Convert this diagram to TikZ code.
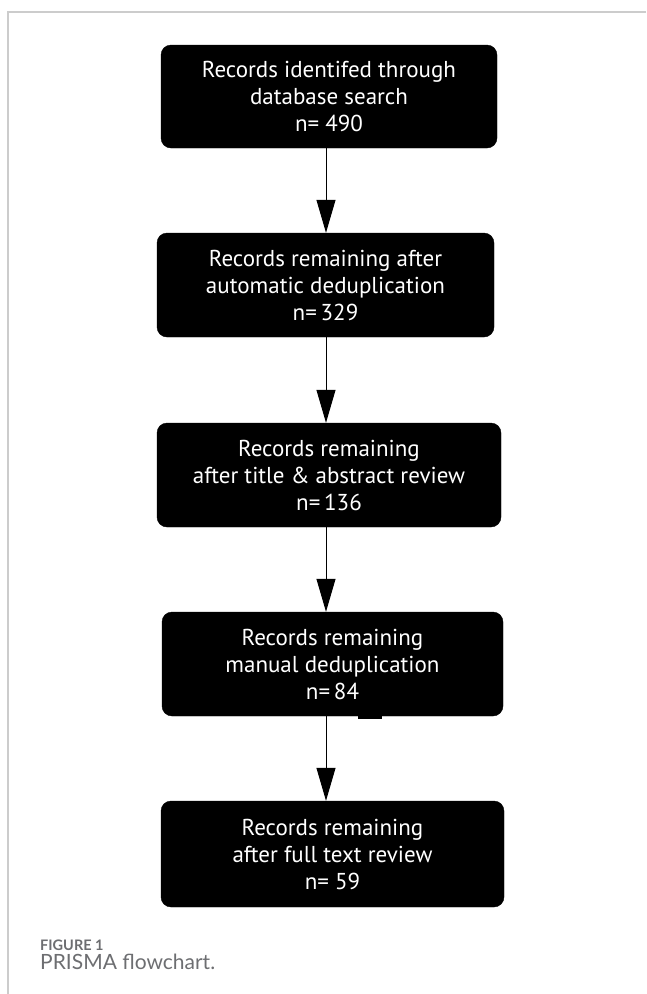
\documentclass[tikz,border=0pt]{standalone}
\usepackage{fontspec}
\setmainfont{PT Sans}
\newfontfamily\capfont{Lato}
\usetikzlibrary{arrows.meta}
\definecolor{frameg}{HTML}{CCCCCC}
\definecolor{capg}{HTML}{6D6E71}
\begin{document}
\begin{tikzpicture}[x=1pt,y=-1pt,
  box/.style={fill=black,draw=black,rounded corners=10pt,text=white,align=center,
    font=\fontsize{23}{27}\selectfont,inner sep=0pt},
  arr/.style={draw=black,line width=1pt,-{Triangle[width=19pt,length=33pt]}}]
\useasboundingbox (0,0) rectangle (646,994);
\draw[frameg,line width=1.2pt] (646,12) -- (8,12) -- (8,994);
\node[box,minimum width=336pt,minimum height=103pt] (b1) at (329,96.5) {Records identifed through\\database search\\n= 490};
\node[box,minimum width=337pt,minimum height=104pt] (b2) at (325.5,285) {Records remaining after\\automatic deduplication\\n=\,329};
\node[box,minimum width=344pt,minimum height=104pt] (b3) at (329,475) {Records remaining\\after title \& abstract review\\n=\,136};
\node[box,minimum width=341pt,minimum height=104pt] (b4) at (332.5,664) {Records remaining\\manual deduplication\\n=\,84};
\node[box,minimum width=343pt,minimum height=106pt] (b5) at (332.5,854) {Records remaining\\after full text review\\n= 59};
\fill[black] (358,715) rectangle (382,719);
\coordinate (ax) at (326,0);
\draw[arr] (b1.south -| ax) -- (b2.north -| ax);
\draw[arr] (b2.south -| ax) -- (b3.north -| ax);
\draw[arr] (b3.south -| ax) -- (b4.north -| ax);
\draw[arr] (b4.south -| ax) -- (b5.north -| ax);
\node[anchor=base west,inner sep=0pt,text=capg,font=\capfont\bfseries\fontsize{14.5}{16}\selectfont] (cap1) at (40,950) {FIGURE 1};
\node[anchor=base west,inner sep=0pt,text=capg,font=\capfont\fontsize{21}{24}\selectfont] (cap2) at (40,969) {PRISMA flowchart.};
\end{tikzpicture}
\end{document}
